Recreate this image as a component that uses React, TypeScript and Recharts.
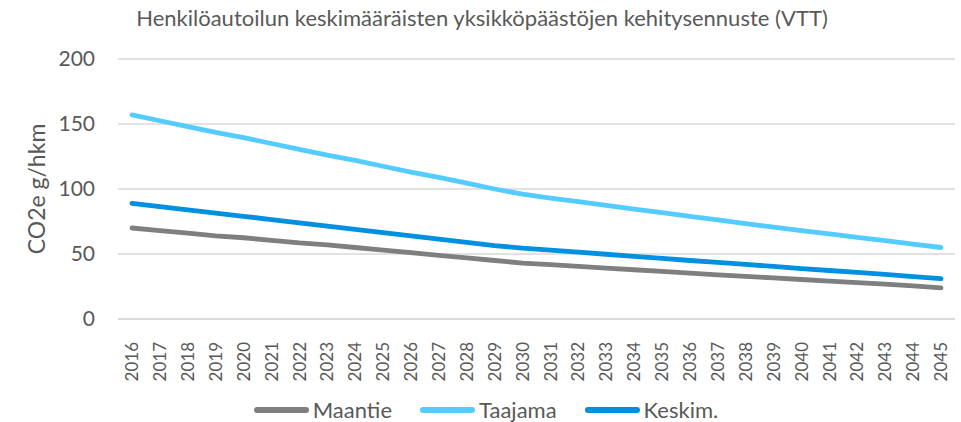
import React from 'react'
import { LineChart, Line, XAxis, YAxis, CartesianGrid } from 'recharts'

const years = [
    '2016', '2017', '2018', '2019', '2020', '2021', '2022', '2023', '2024', '2025',
    '2026', '2027', '2028', '2029', '2030', '2031', '2032', '2033', '2034', '2035',
    '2036', '2037', '2038', '2039', '2040', '2041', '2042', '2043', '2044', '2045',
]

const maantie = [
    70, 68, 66, 64, 62.5, 60.5, 58.5, 57, 55, 53, 51, 49, 47, 45, 43,
    41.8, 40.5, 39.2, 37.9, 36.6, 35.3, 34, 32.8, 31.6, 30.4, 29.2, 28, 26.8, 25.4, 24,
]

const taajama = [
    157, 152.5, 148, 143.5, 139.5, 135, 130.5, 126, 122, 117.5, 113, 109, 104.5, 100, 96,
    93, 90.2, 87.4, 84.6, 81.8, 79, 76.2, 73.4, 70.6, 68, 65.4, 62.8, 60.2, 57.6, 55,
]

const keskim = [
    89, 86.5, 84, 81.5, 79, 76.5, 74, 71.5, 69, 66.5, 64, 61.5, 59, 56.5, 54.5,
    53, 51.5, 49.8, 48.2, 46.6, 45, 43.5, 42, 40.4, 38.8, 37.3, 35.8, 34.3, 32.6, 31,
]

const yTicks = [0, 50, 100, 150, 200]

const series = [
    { key: 'maantie', name: 'Maantie', color: '#7f7f7f' },
    { key: 'taajama', name: 'Taajama', color: '#55ccff' },
    { key: 'keskim', name: 'Keskim.', color: '#0090e0' },
]

const data = years.map((year, i) => ({
    year,
    maantie: maantie[i],
    taajama: taajama[i],
    keskim: keskim[i],
}))

const FONT = 'Lato, "Open Sans", sans-serif'
const TEXT = '#595959'

const YearTick = (props: any) => {
    const { x, y, payload } = props
    return (
        <g transform={`translate(${x},${y + 15})`}>
            <text transform="rotate(-90)" textAnchor="end" dy="0.36em" fill={TEXT} fontSize={17} fontFamily={FONT}>
                {payload.value}
            </text>
        </g>
    )
}

const App: React.FC = () => {
    return (
        <div style={{ position: 'absolute', left: 0, top: 0, width: 961, height: 422, background: '#fff', fontFamily: FONT }}>
            <div style={{ position: 'absolute', top: 4, left: 0, width: 964, textAlign: 'center', fontSize: 22, color: TEXT }}>
                Henkilöautoilun keskimääräisten yksikköpäästöjen kehitysennuste (VTT)
            </div>
            <LineChart width={961} height={422} data={data} margin={{ top: 59, right: 6, bottom: 0, left: 0 }}>
                <CartesianGrid vertical={false} stroke="#d9d9d9" strokeWidth={1.5} />
                <XAxis
                    dataKey="year"
                    interval={0}
                    height={103}
                    tickLine={false}
                    axisLine={{ stroke: '#d9d9d9', strokeWidth: 1.5 }}
                    padding={{ left: 14, right: 14 }}
                    tick={<YearTick />}
                />
                <YAxis
                    width={118}
                    domain={[0, 200]}
                    ticks={yTicks}
                    axisLine={false}
                    tickLine={false}
                    tickSize={0}
                    tickMargin={23}
                    tick={{ fill: TEXT, fontSize: 21, fontFamily: FONT }}
                    label={{
                        content: () => (
                            <text x={36} y={189} transform="rotate(-90 36 189)" textAnchor="middle" dominantBaseline="central" fill={TEXT} fontSize={23} fontFamily={FONT}>
                                CO2e g/hkm
                            </text>
                        ),
                    }}
                />
                {series.map((s) => (
                    <Line
                        key={s.key}
                        type="linear"
                        dataKey={s.key}
                        name={s.name}
                        stroke={s.color}
                        strokeWidth={4.8}
                        strokeLinecap="round"
                        strokeLinejoin="round"
                        dot={false}
                        activeDot={false}
                        isAnimationActive={false}
                    />
                ))}
            </LineChart>
            <div style={{ position: 'absolute', top: 396, left: 0, width: 972, display: 'flex', justifyContent: 'center', gap: 28 }}>
                {series.map((s) => (
                    <div key={s.key} style={{ display: 'flex', alignItems: 'center' }}>
                        <span style={{ display: 'inline-block', width: 55, height: 6, borderRadius: 3, background: s.color, marginRight: 4 }} />
                        <span style={{ fontSize: 22, color: TEXT, lineHeight: '28px' }}>{s.name}</span>
                    </div>
                ))}
            </div>
        </div>
    )
}

export default App
